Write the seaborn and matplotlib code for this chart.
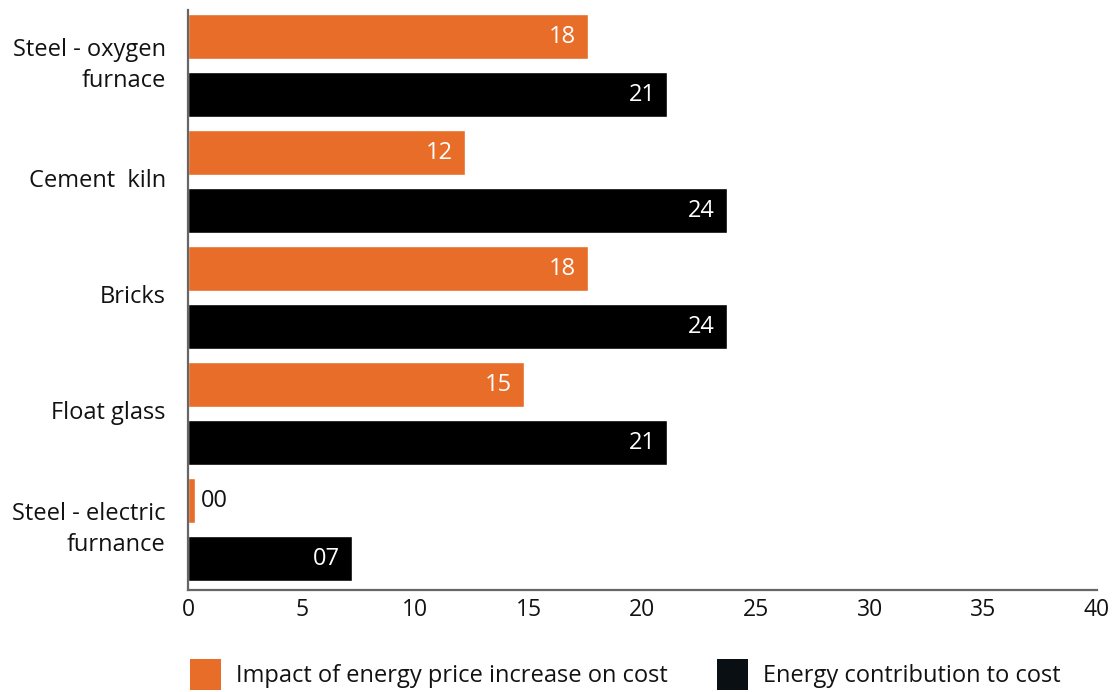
import matplotlib
matplotlib.use("Agg")
import matplotlib.pyplot as plt
import matplotlib.transforms as mtransforms
from matplotlib.patches import Patch
import seaborn as sns
import pandas as pd

categories = ["Steel - oxygen\nfurnace", "Cement  kiln", "Bricks", "Float glass", "Steel - electric\nfurnance"]
impact = [17.6, 12.2, 17.6, 14.8, 0.3]
contribution = [21.1, 23.7, 23.7, 21.1, 7.2]
series_names = ["Impact of energy price increase on cost", "Energy contribution to cost"]
xticks = [0, 5, 10, 15, 20, 25, 30, 35, 40]

orange = "#E86D29"
black = "#000000"

df = pd.DataFrame({
    "category": categories * 2,
    "value": impact + contribution,
    "series": [series_names[0]] * len(categories) + [series_names[1]] * len(categories),
})

sns.set_theme(style="white")
plt.rcParams["font.family"] = ["Open Sans", "DejaVu Sans"]

fig = plt.figure(figsize=(11.16, 6.92), dpi=100)
ax = fig.add_axes([188 / 1116, 1 - 590 / 692, (1097 - 188) / 1116, (590 - 10) / 692])

sns.barplot(data=df, y="category", x="value", hue="series", orient="h",
            palette=[orange, black], width=1.0, gap=0.224, legend=False,
            saturation=1, ax=ax)

ax.set_xlim(0, 40)
ax.set_ylim(4.52, -0.48)
ax.set_xticks(xticks)
ax.set_xticklabels([str(t) for t in xticks])
ax.set_xlabel("")
ax.set_ylabel("")

for s in ["top", "right"]:
    ax.spines[s].set_visible(False)
for s in ["left", "bottom"]:
    ax.spines[s].set_color("#666666")
    ax.spines[s].set_linewidth(1.6)

ax.tick_params(axis="x", length=0, pad=6, labelsize=16.5, labelcolor="#121212")
ax.tick_params(axis="y", length=0, pad=16, labelsize=17, labelcolor="#121212")
for lbl in ax.get_yticklabels():
    lbl.set_linespacing(1.4)
    lbl.set_ha("right")
    dy = 7 if "\n" in lbl.get_text() else 4
    lbl.set_transform(lbl.get_transform() + mtransforms.Affine2D().translate(0, dy))

for cont in ax.containers:
    for p in cont.patches:
        w = p.get_width()
        yc = p.get_y() + p.get_height() / 2
        txt = f"{w:02.0f}"
        if w > 2:
            ax.annotate(txt, (w, yc), xytext=(-12, 0), textcoords="offset pixels",
                        ha="right", va="center", color="white", fontsize=17)
        else:
            ax.annotate(txt, (w, yc), xytext=(6, 0), textcoords="offset pixels",
                        ha="left", va="center", color="#121212", fontsize=17)

handles = [Patch(facecolor=orange, edgecolor="none"), Patch(facecolor="#0A0F14", edgecolor="none")]
fig.legend(handles, series_names, loc="lower left", bbox_to_anchor=(190 / 1116, 2 / 692),
           ncol=2, frameon=False, fontsize=17, handlelength=1.3, handleheight=1.65,
           handletextpad=0.65, columnspacing=2.1, borderpad=0, borderaxespad=0,
           labelcolor="#121212")

fig.savefig("out.png", dpi=100)
